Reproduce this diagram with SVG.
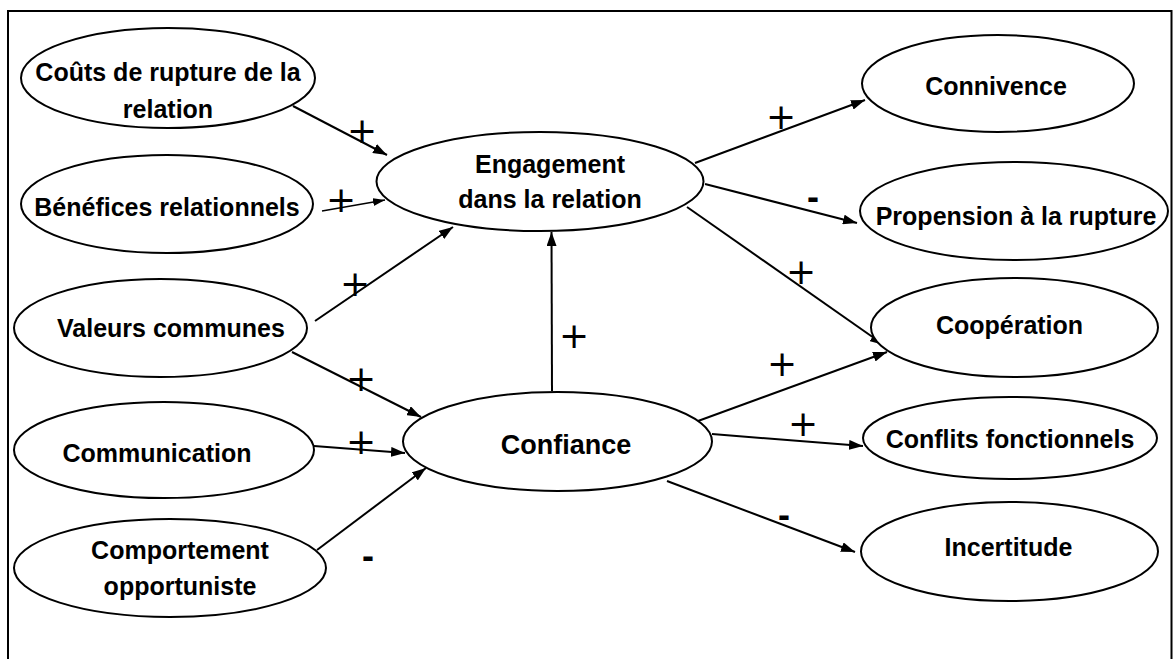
<svg xmlns="http://www.w3.org/2000/svg" width="1173" height="659" viewBox="0 0 1173 659">
  <style>
    .node ellipse { fill: #ffffff; stroke: #000000; stroke-width: 2; }
    .lbl { font-family: "Liberation Sans", Arial, sans-serif; font-weight: bold; font-size: 25px; fill: #000000; text-anchor: middle; }
    .big { font-size: 27px; }
    .edge { stroke: #000000; stroke-width: 2; fill: none; marker-end: url(#head); }
    .thin { stroke-width: 1.4; marker-end: url(#headSmall); }
    .plus { font-family: "DejaVu Sans", sans-serif; font-size: 36px; fill: #000000; text-anchor: middle; }
    .minus { font-family: "Liberation Sans", Arial, sans-serif; font-weight: bold; font-size: 36px; fill: #000000; text-anchor: middle; }
  </style>
  <defs>
    <marker id="head" viewBox="0 0 14 10" refX="14" refY="5" markerWidth="14" markerHeight="10" markerUnits="userSpaceOnUse" orient="auto">
      <path d="M0,0 L14,5 L0,10 z" fill="#000000"/>
    </marker>
    <marker id="headSmall" viewBox="0 0 12 8" refX="12" refY="4" markerWidth="12" markerHeight="8" markerUnits="userSpaceOnUse" orient="auto">
      <path d="M0,0 L12,4 L0,8 z" fill="#000000"/>
    </marker>
  </defs>

  <rect x="0" y="0" width="1173" height="659" fill="#ffffff"/>
  <!-- outer frame -->
  <rect x="8" y="11" width="1163.5" height="660" fill="none" stroke="#000000" stroke-width="2"/>

  <!-- connectors -->
  <g id="connectors">
    <line class="edge" x1="293" y1="106" x2="387" y2="155"/>
    <line class="edge thin" x1="322" y1="211" x2="385" y2="200"/>
    <line class="edge" x1="315" y1="321" x2="453" y2="227"/>
    <line class="edge" x1="292" y1="352" x2="421" y2="417"/>
    <line class="edge" x1="314" y1="446" x2="405" y2="453"/>
    <line class="edge" x1="317" y1="550" x2="426" y2="468"/>
    <line class="edge" x1="552" y1="391" x2="551.5" y2="232"/>
    <line class="edge" x1="695" y1="163" x2="865" y2="100"/>
    <line class="edge" x1="705" y1="184" x2="857" y2="223"/>
    <line class="edge" x1="687" y1="207" x2="884" y2="345"/>
    <line class="edge" x1="698" y1="421" x2="887" y2="352"/>
    <line class="edge" x1="712" y1="434" x2="863" y2="446"/>
    <line class="edge" x1="667" y1="481" x2="855" y2="552"/>

    <!-- signs on the connectors -->
    <text class="plus" x="362" y="143">+</text>
    <text class="plus" x="341" y="212">+</text>
    <text class="plus" x="355" y="296">+</text>
    <text class="plus" x="361" y="391">+</text>
    <text class="plus" x="361" y="454">+</text>
    <text class="minus" x="368" y="568">-</text>
    <text class="plus" x="574" y="348">+</text>
    <text class="plus" x="781" y="129">+</text>
    <text class="minus" x="813" y="209">-</text>
    <text class="plus" x="801" y="284">+</text>
    <text class="plus" x="782" y="376">+</text>
    <text class="plus" x="803" y="436">+</text>
    <text class="minus" x="784" y="527">-</text>
  </g>

  <!-- antecedents -->
  <g id="couts" class="node">
    <ellipse cx="168" cy="78" rx="147" ry="50"/>
    <text class="lbl" x="168" y="81">Coûts de rupture de la</text>
    <text class="lbl" x="168" y="118">relation</text>
  </g>
  <g id="benefices" class="node">
    <ellipse cx="167" cy="204" rx="146" ry="49"/>
    <text class="lbl" x="167" y="216">Bénéfices relationnels</text>
  </g>
  <g id="valeurs" class="node">
    <ellipse cx="160.5" cy="328" rx="146.5" ry="49"/>
    <text class="lbl" x="171" y="337">Valeurs communes</text>
  </g>
  <g id="communication" class="node">
    <ellipse cx="164" cy="450" rx="150" ry="48"/>
    <text class="lbl" x="157" y="462">Communication</text>
  </g>
  <g id="comportement" class="node">
    <ellipse cx="170" cy="568" rx="156" ry="49"/>
    <text class="lbl" x="180" y="559">Comportement</text>
    <text class="lbl" x="180" y="595">opportuniste</text>
  </g>

  <!-- mediators -->
  <g id="engagement" class="node">
    <ellipse cx="540" cy="181.5" rx="163.5" ry="49.5"/>
    <text class="lbl" x="550" y="173">Engagement</text>
    <text class="lbl" x="550" y="208">dans la relation</text>
  </g>
  <g id="confiance" class="node">
    <ellipse cx="557.5" cy="441.5" rx="154.5" ry="49.5"/>
    <text class="lbl big" x="566" y="454">Confiance</text>
  </g>

  <!-- outcomes -->
  <g id="connivence" class="node">
    <ellipse cx="998" cy="83.5" rx="136" ry="48.5"/>
    <text class="lbl" x="996" y="95">Connivence</text>
  </g>
  <g id="propension" class="node">
    <ellipse cx="1014" cy="211" rx="154" ry="49"/>
    <text class="lbl" x="1016" y="225">Propension à la rupture</text>
  </g>
  <g id="cooperation" class="node">
    <ellipse cx="1014.5" cy="327.5" rx="143.5" ry="49.5"/>
    <text class="lbl" x="1009.5" y="334">Coopération</text>
  </g>
  <g id="conflits" class="node">
    <ellipse cx="1010" cy="438" rx="147" ry="41"/>
    <text class="lbl" x="1010" y="448">Conflits fonctionnels</text>
  </g>
  <g id="incertitude" class="node">
    <ellipse cx="1009.5" cy="551.5" rx="148.5" ry="49.5"/>
    <text class="lbl" x="1008.5" y="556">Incertitude</text>
  </g>
</svg>
